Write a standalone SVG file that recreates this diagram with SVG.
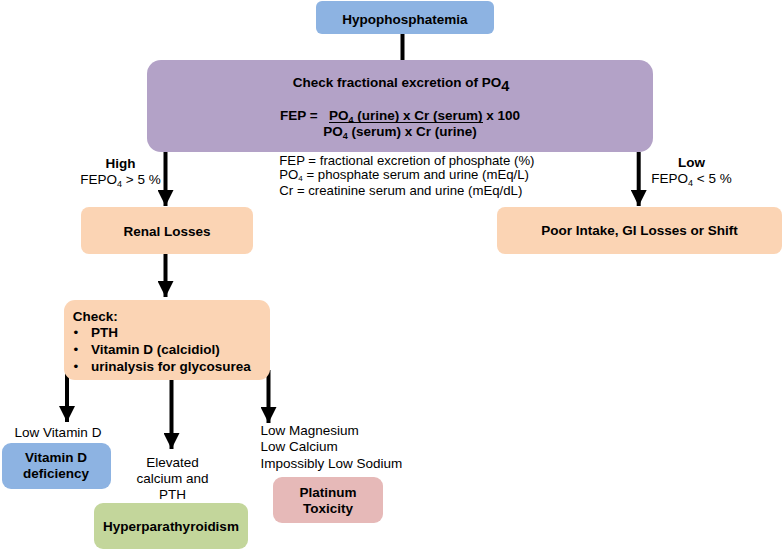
<svg xmlns="http://www.w3.org/2000/svg" width="784" height="552" viewBox="0 0 784 552">
<style>
text{font-family:"Liberation Sans",Arial,Helvetica,sans-serif;font-size:13.5px;fill:#000}
.b{font-weight:bold}
.m{text-anchor:middle}
.blue{fill:#8DB3E2}
.purple{fill:#B3A2C7}
.peach{fill:#FBD4B4}
.green{fill:#C3D69B}
.pink{fill:#E6B9B8}
.conn{stroke:#000;stroke-width:4;fill:none}
.sub{font-size:9px}
.leg{font-size:13.2px}
.lsub{font-size:8px}
</style>
<defs>
<marker id="ah" markerUnits="userSpaceOnUse" markerWidth="16" markerHeight="16" refX="16" refY="8" orient="auto">
<path d="M0,0 L16,8 L0,16 Z" fill="#000"/>
</marker>
</defs>

<g id="connectors">
<line class="conn" x1="402.5" y1="34" x2="402.5" y2="60"/>
<line class="conn" x1="165.5" y1="152" x2="165.5" y2="206" marker-end="url(#ah)"/>
<line class="conn" x1="638.7" y1="152" x2="638.7" y2="206" marker-end="url(#ah)"/>
<line class="conn" x1="165.5" y1="254" x2="165.5" y2="297" marker-end="url(#ah)"/>
<line class="conn" x1="67" y1="370" x2="67" y2="422" marker-end="url(#ah)"/>
<line class="conn" x1="171.5" y1="380" x2="171.5" y2="449" marker-end="url(#ah)"/>
<line class="conn" x1="268.5" y1="370" x2="268.5" y2="423" marker-end="url(#ah)"/>
</g>

<g id="hypophosphatemia">
<rect class="blue" x="316" y="1" width="178" height="33" rx="6"/>
<text class="b m" x="405" y="23.5">Hypophosphatemia</text>
</g>

<g id="check-fep">
<rect class="purple" x="147" y="60" width="506" height="92" rx="14"/>
<text class="b m" x="401" y="86.5">Check fractional excretion of PO<tspan dy="4" style="font-size:14.5px">4</tspan></text>
<text class="b" x="280" y="120">FEP =</text>
<text class="b" x="329" y="120">PO<tspan class="sub" dy="3">4</tspan><tspan dy="-3"> (urine) x Cr (serum) x 100</tspan></text>
<line x1="329" y1="122.5" x2="483" y2="122.5" stroke="#000" stroke-width="1.2"/>
<text class="b m" x="400" y="136">PO<tspan class="sub" dy="3">4</tspan><tspan dy="-3"> (serum) x Cr (urine)</tspan></text>
</g>

<g id="legend">
<text class="leg" x="279.3" y="164.5">FEP = fractional excretion of phosphate (%)</text>
<text class="leg" x="279.3" y="179">PO<tspan class="lsub" dy="1.5">4</tspan><tspan dy="-1.5"> = phosphate serum and urine (mEq/L)</tspan></text>
<text class="leg" x="279.3" y="194.5">Cr = creatinine serum and urine (mEq/dL)</text>
</g>

<g id="label-high">
<text class="b m" x="120.5" y="168">High</text>
<text class="m" x="120.5" y="184">FEPO<tspan class="sub" dy="3">4</tspan><tspan dy="-3"> &gt; 5 %</tspan></text>
</g>

<g id="label-low">
<text class="b m" x="691.5" y="166.7">Low</text>
<text class="m" x="691.5" y="183">FEPO<tspan class="sub" dy="3">4</tspan><tspan dy="-3"> &lt; 5 %</tspan></text>
</g>

<g id="renal-losses">
<rect class="peach" x="81" y="207" width="172" height="47" rx="8"/>
<text class="b m" x="167" y="235.5">Renal Losses</text>
</g>

<g id="poor-intake">
<rect class="peach" x="497" y="207" width="285" height="47" rx="8"/>
<text class="b m" x="639.5" y="235">Poor Intake, GI Losses or Shift</text>
</g>

<g id="check-list">
<rect class="peach" x="64" y="300" width="206" height="80" rx="11"/>
<text class="b" x="72.7" y="320.7">Check:</text>
<text x="73.5" y="337">•</text>
<text class="b" x="91" y="337">PTH</text>
<text x="73.5" y="354">•</text>
<text class="b" x="91" y="354">Vitamin D (calcidiol)</text>
<text x="73.5" y="370.5">•</text>
<text class="b" x="91" y="370.5">urinalysis for glycosurea</text>
</g>

<g id="label-low-vitd">
<text class="m" x="58" y="436.7">Low Vitamin D</text>
</g>

<g id="vitd-deficiency">
<rect class="blue" x="2" y="443" width="109" height="46" rx="9"/>
<text class="b m" x="56" y="461.7">Vitamin D</text>
<text class="b m" x="56" y="478.3">deficiency</text>
</g>

<g id="label-elevated">
<text class="m" x="172.5" y="466.7">Elevated</text>
<text class="m" x="172.5" y="483.3">calcium and</text>
<text class="m" x="172.5" y="499">PTH</text>
</g>

<g id="hyperparathyroidism">
<rect class="green" x="94" y="503" width="154" height="46" rx="9"/>
<text class="b m" x="171" y="530.7">Hyperparathyroidism</text>
</g>

<g id="label-low-mg">
<text x="260.5" y="435">Low Magnesium</text>
<text x="260.5" y="451.3">Low Calcium</text>
<text x="260.5" y="467.7">Impossibly Low Sodium</text>
</g>

<g id="platinum-toxicity">
<rect class="pink" x="273" y="477" width="110" height="46" rx="9"/>
<text class="b m" x="328" y="497.3">Platinum</text>
<text class="b m" x="328" y="513">Toxicity</text>
</g>
</svg>
